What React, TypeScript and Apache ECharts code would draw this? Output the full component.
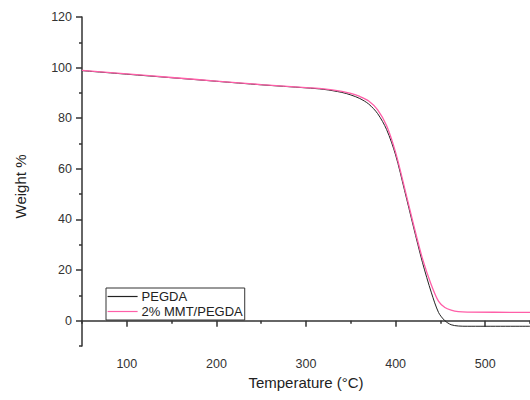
import React, { useEffect, useRef } from "react";
import * as echarts from "echarts";

const tempT = [50, 100, 150, 200, 250, 300, 320, 340, 350, 360, 370, 380, 390, 400, 410, 420, 430, 440, 448, 455, 462, 470, 480, 550];
const pegdaW = [98.8, 97.4, 96.0, 94.6, 93.2, 92.0, 91.4, 90.2, 89.2, 87.8, 85.6, 81.8, 75.5, 65.5, 51.5, 37.0, 23.0, 11.0, 3.2, 0.0, -1.6, -2.1, -2.2, -2.2];
const mmtW = [98.9, 97.5, 96.1, 94.7, 93.3, 92.1, 91.6, 90.6, 89.8, 88.6, 86.8, 83.3, 77.0, 66.5, 52.5, 38.0, 24.5, 14.0, 7.6, 5.2, 4.2, 3.6, 3.4, 3.3];

const xLabels = [100, 200, 300, 400, 500];
const xMinor = [50, 150, 250, 350, 450, 550];
const yLabels = [0, 20, 40, 60, 80, 100, 120];
const yMinor = [-10, 10, 30, 50, 70, 90, 110];

const font = "Liberation Sans, Arial, sans-serif";

export default function App() {
  const ref = useRef<HTMLDivElement>(null);
  useEffect(() => {
    const chart = echarts.init(ref.current!, null, { renderer: "svg" });
    const axisLineStyle = { color: "#333", width: 1.5 };
    chart.setOption({
      animation: false,
      backgroundColor: "#fff",
      grid: { left: 82, right: 0, top: 17, bottom: 54 },
      graphic: [
        {
          type: "text",
          x: 20,
          y: 186.5,
          rotation: Math.PI / 2,
          style: {
            text: "Weight %",
            fontFamily: font,
            fontSize: 15,
            fill: "#222",
            align: "center",
            verticalAlign: "middle",
          },
        },
      ],
      legend: {
        orient: "vertical",
        left: 106,
        top: 288,
        borderColor: "#333",
        borderWidth: 1,
        padding: [2, 2, 2, 1],
        itemGap: 2,
        itemWidth: 30,
        itemHeight: 14,
        itemStyle: { color: "transparent", borderWidth: 0, opacity: 0 },
        lineStyle: { width: 1.2 },
        textStyle: { fontFamily: font, fontSize: 13, color: "#222", padding: [0, 0, 0, -1] },
        data: ["PEGDA", "2% MMT/PEGDA"],
      },
      xAxis: [
        {
          type: "value",
          min: 50,
          max: 550,
          position: "bottom",
          splitLine: { show: false },
          axisLine: { show: true, lineStyle: axisLineStyle },
          axisTick: { show: true, customValues: xLabels, length: 6, lineStyle: axisLineStyle },
          axisLabel: { customValues: xLabels, margin: 11, fontFamily: font, fontSize: 12.5, color: "#333" },
          name: "Temperature (°C)",
          nameLocation: "middle",
          nameGap: 29,
          nameTextStyle: { fontFamily: font, fontSize: 15, color: "#222" },
        },
        {
          type: "value",
          min: 50,
          max: 550,
          position: "bottom",
          splitLine: { show: false },
          axisLine: { show: false },
          axisTick: { show: true, customValues: xMinor, length: 3, lineStyle: axisLineStyle },
          axisLabel: { show: false },
        },
      ],
      yAxis: [
        {
          type: "value",
          min: -10,
          max: 120,
          position: "left",
          splitLine: { show: false },
          axisLine: { show: true, lineStyle: axisLineStyle },
          axisTick: { show: true, customValues: yLabels, length: 6, lineStyle: axisLineStyle },
          axisLabel: { customValues: yLabels, margin: 10, fontFamily: font, fontSize: 12.5, color: "#333" },
        },
        {
          type: "value",
          min: -10,
          max: 120,
          position: "left",
          splitLine: { show: false },
          axisLine: { show: false },
          axisTick: { show: true, customValues: yMinor, length: 3, lineStyle: axisLineStyle },
          axisLabel: { show: false },
        },
      ],
      series: [
        {
          name: "PEGDA",
          type: "line",
          smooth: 0.3,
          symbol: "none",
          color: "#222",
          lineStyle: { color: "#222", width: 1 },
          data: tempT.map((t, i) => [t, pegdaW[i]]),
        },
        {
          name: "2% MMT/PEGDA",
          type: "line",
          smooth: 0.3,
          symbol: "none",
          color: "#ff5fa8",
          lineStyle: { color: "#ff5fa8", width: 1.3 },
          data: tempT.map((t, i) => [t, mmtW[i]]),
        },
      ],
    });
    return () => chart.dispose();
  }, []);
  return <div ref={ref} style={{ position: "fixed", left: 0, top: 0, width: 530, height: 400 }} />;
}
